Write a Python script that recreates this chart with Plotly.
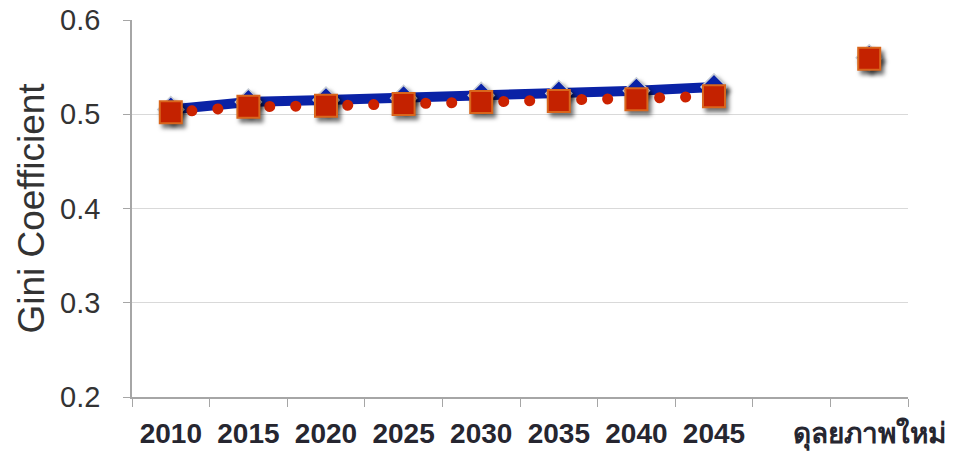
import plotly.graph_objects as go

categories = ["2010", "2015", "2020", "2025", "2030", "2035", "2040", "2045", " ", "ดุลยภาพใหม่"]
series_blue = [0.505, 0.513, 0.515, 0.517, 0.520, 0.522, 0.525, 0.529, None, 0.560]
series_red = [0.502, 0.508, 0.509, 0.511, 0.513, 0.514, 0.516, 0.519, None, 0.559]
y_ticks = [0.2, 0.3, 0.4, 0.5, 0.6]
y_tick_text = ["0.2", "0.3", "0.4", "0.5", "0.6"]

fig = go.Figure()
fig.add_trace(go.Scatter(
    x=categories, y=series_blue, mode="lines+markers", connectgaps=False,
    line=dict(color="#0A22A6", width=10),
    marker=dict(symbol="diamond", size=20, color="#0A22A6",
                line=dict(color="#C8CED6", width=1.5)),
    showlegend=False, hoverinfo="skip",
))
fig.add_trace(go.Scatter(
    x=categories, y=series_red, mode="lines+markers", connectgaps=False,
    line=dict(color="#CC2200", width=11, dash="1px,25px"),
    marker=dict(symbol="square", size=22, color="#C42200",
                line=dict(color="#D9661C", width=2)),
    showlegend=False, hoverinfo="skip",
))

fig.update_layout(
    width=957, height=452,
    margin=dict(l=132, r=49, t=20, b=55),
    paper_bgcolor="white", plot_bgcolor="white",
    font=dict(family="Liberation Sans, Arial, sans-serif"),
)
fig.update_xaxes(
    type="category", categoryorder="array", categoryarray=categories,
    range=[-0.5, 9.5], tickson="boundaries", ticks="outside", ticklen=8,
    tickcolor="#A6A6A6", showline=True, linecolor="#A6A6A6", linewidth=1.5,
    showgrid=False, tickangle=0, automargin=False, ticklabelstandoff=11,
    tickfont=dict(size=28, color="#262630", family="Liberation Sans, Arial, sans-serif", weight="bold"),
)
fig.update_yaxes(
    range=[0.2, 0.6], tickvals=y_ticks, ticktext=y_tick_text,
    ticks="outside", ticklen=7, tickcolor="#A6A6A6",
    showline=True, linecolor="#A6A6A6", linewidth=1.5,
    showgrid=True, gridcolor="#D9D9D9", gridwidth=1, zeroline=False,
    automargin=False, ticklabelstandoff=17,
    tickfont=dict(size=29, color="#333333"),
    title=dict(text="Gini Coefficient", font=dict(size=37, color="#333333"), standoff=4),
)

css = """
var s = document.createElement('style');
s.textContent = `
body { margin: 0 !important; }
.modebar-container { display: none !important; }
.scatterlayer .trace:nth-child(2) .js-line { stroke-linecap: round !important; stroke-dasharray: 0.1px, 25.9px !important; stroke-dashoffset: 4.9px; }
.scatterlayer .trace:nth-child(1) .js-line { stroke-linejoin: round; }
.scatterlayer .points path { filter: drop-shadow(3px 4px 2px rgba(0,0,0,0.55)); }
`;
document.head.appendChild(s);
"""
fig.write_html("out.html", post_script=css, config={"displayModeBar": False})
